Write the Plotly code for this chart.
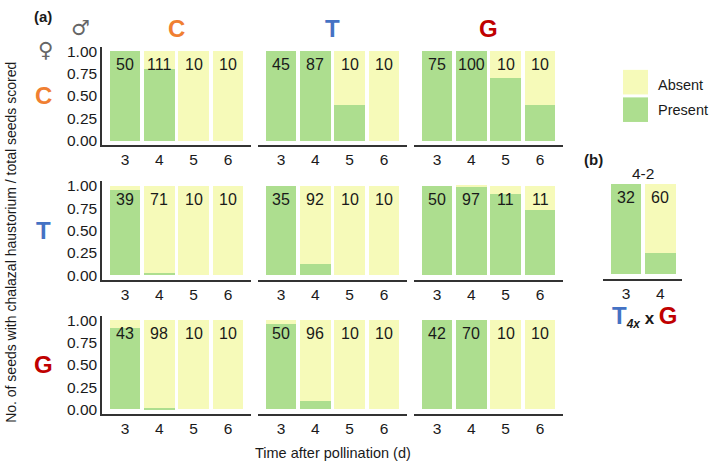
import plotly.graph_objects as go

# ---------------- data ----------------
days = [3, 4, 5, 6]
days_b = [3, 4]
crosses = ["C", "T", "G"]

# fraction of seeds with chalazal haustorium (Present); female x male
present_C_C = [1.00, 0.80, 0.00, 0.00]
present_C_T = [1.00, 1.00, 0.40, 0.00]
present_C_G = [1.00, 1.00, 0.70, 0.40]
present_T_C = [0.95, 0.03, 0.00, 0.00]
present_T_T = [1.00, 0.13, 0.00, 0.00]
present_T_G = [1.00, 0.99, 0.91, 0.73]
present_G_C = [0.91, 0.02, 0.00, 0.00]
present_G_T = [0.96, 0.09, 0.00, 0.00]
present_G_G = [1.00, 1.00, 0.00, 0.00]

# total seeds scored
n_C_C = [50, 111, 10, 10]
n_C_T = [45, 87, 10, 10]
n_C_G = [75, 100, 10, 10]
n_T_C = [39, 71, 10, 10]
n_T_T = [35, 92, 10, 10]
n_T_G = [50, 97, 11, 11]
n_G_C = [43, 98, 10, 10]
n_G_T = [50, 96, 10, 10]
n_G_G = [42, 70, 10, 10]

# panel (b): T4x x G, line 4-2
present_b = [1.00, 0.24]
n_b = [32, 60]

present = {("C", "C"): present_C_C, ("C", "T"): present_C_T, ("C", "G"): present_C_G,
           ("T", "C"): present_T_C, ("T", "T"): present_T_T, ("T", "G"): present_T_G,
           ("G", "C"): present_G_C, ("G", "T"): present_G_T, ("G", "G"): present_G_G}
counts = {("C", "C"): n_C_C, ("C", "T"): n_C_T, ("C", "G"): n_C_G,
          ("T", "C"): n_T_C, ("T", "T"): n_T_T, ("T", "G"): n_T_G,
          ("G", "C"): n_G_C, ("G", "T"): n_G_T, ("G", "G"): n_G_G}

# ---------------- styling ----------------
W, H = 709, 471
GREEN = "#ADDE8F"
YELLOW = "#F6FAB9"
COL = {"C": "#F07F32", "T": "#4472C4", "G": "#C00000"}
FONT = "Liberation Sans, Arial, Helvetica, sans-serif"
TXT = "#1a1a1a"
LINE = "#333333"
TICK = 15.5
NUM = 16


def px(x):
    return x / W


def py(y):
    return 1 - y / H


col_px = [(102, 251), (258, 407), (414, 563)]
row_px = [(43.5, 143.5), (180.5, 280.5), (317, 417)]
XR = [2.33, 6.67]
YR = [-0.05, 1.05]

fig = go.Figure()
layout = {}
annotations = []

idx = 0
for r, fem in enumerate(crosses):
    for c, mal in enumerate(crosses):
        idx += 1
        xa = "x" if idx == 1 else f"x{idx}"
        ya = "y" if idx == 1 else f"y{idx}"
        pres = present[(fem, mal)]
        absn = [round(1 - v, 3) for v in pres]
        fig.add_trace(go.Bar(x=days, y=pres, marker_color=GREEN, marker_line_width=0,
                             xaxis=xa, yaxis=ya, showlegend=False, name="Present"))
        fig.add_trace(go.Bar(x=days, y=absn, marker_color=YELLOW, marker_line_width=0,
                             xaxis=xa, yaxis=ya, showlegend=False, name="Absent"))
        for d, n in zip(days, counts[(fem, mal)]):
            annotations.append(dict(x=d, y=0.85, xref=xa, yref=ya, text=str(n), showarrow=False,
                                    font=dict(size=NUM, color=TXT, family=FONT)))
        kx = "xaxis" if idx == 1 else f"xaxis{idx}"
        ky = "yaxis" if idx == 1 else f"yaxis{idx}"
        layout[kx] = dict(domain=[px(col_px[c][0]), px(col_px[c][1])], anchor=ya, range=XR,
                          tickvals=days, ticktext=[str(d) for d in days], showline=True,
                          linecolor=LINE, linewidth=1.5, ticks="", showgrid=False, zeroline=False,
                          tickfont=dict(size=TICK, color=TXT, family=FONT))
        layout[ky] = dict(domain=[py(row_px[r][1]), py(row_px[r][0])], anchor=xa, range=YR,
                          showgrid=False, zeroline=False, ticks="",
                          showline=(c == 0), linecolor=LINE, linewidth=1.5,
                          showticklabels=(c == 0),
                          tickvals=[0, 0.25, 0.5, 0.75, 1.0],
                          ticktext=["0.00", "0.25", "0.50", "0.75", "1.00"],
                          tickfont=dict(size=TICK, color=TXT, family=FONT))

# panel (b)
idx += 1
xa, ya = f"x{idx}", f"y{idx}"
fig.add_trace(go.Bar(x=days_b, y=present_b, marker_color=GREEN, marker_line_width=0,
                     xaxis=xa, yaxis=ya, showlegend=False))
fig.add_trace(go.Bar(x=days_b, y=[round(1 - v, 3) for v in present_b], marker_color=YELLOW,
                     marker_line_width=0, xaxis=xa, yaxis=ya, showlegend=False))
for d, n in zip(days_b, n_b):
    annotations.append(dict(x=d, y=0.85, xref=xa, yref=ya, text=str(n), showarrow=False,
                            font=dict(size=NUM, color=TXT, family=FONT)))
layout[f"xaxis{idx}"] = dict(domain=[px(603), px(682)], anchor=ya, range=[2.33, 4.63],
                             tickvals=days_b, ticktext=[str(d) for d in days_b], showline=True,
                             linecolor=LINE, linewidth=1.5, ticks="", showgrid=False,
                             zeroline=False, tickfont=dict(size=TICK, color=TXT, family=FONT))
layout[f"yaxis{idx}"] = dict(domain=[py(279.5), py(178.5)], anchor=xa, range=YR, showgrid=False,
                             zeroline=False, showline=False, showticklabels=False, ticks="")

# ---------------- labels ----------------
def ann(x, y, text, size, color=TXT, bold=False, family=FONT, **kw):
    t = f"<b>{text}</b>" if bold else text
    d = dict(x=px(x), y=py(y), xref="paper", yref="paper", text=t, showarrow=False,
             font=dict(size=size, color=color, family=family), xanchor="center",
             yanchor="middle")
    d.update(kw)
    annotations.append(d)


ann(43, 13, "(a)", 15, bold=True)
ann(80, 24, "♂", 21, color="#666666", family="DejaVu Sans")
ann(45, 47, "♀", 21, color="#666666", family="DejaVu Sans")
for c, mal in enumerate(crosses):
    ann((col_px[c][0] + col_px[c][1]) / 2, 25, mal, 24, color=COL[mal], bold=True)
for r, fem in enumerate(crosses):
    ann(43, (row_px[r][0] + row_px[r][1]) / 2, fem, 24, color=COL[fem], bold=True)

ann(593, 158, "(b)", 15, bold=True)
ann(643, 172, "4-2", 15.5)
ann(644, 318,
    f"<b><span style='color:{COL['T']};font-size:24px'>T</span><sub><i>4x</i></sub>"
    f" x <span style='color:{COL['G']};font-size:24px'>G</span></b>", 17)

ann(333, 457, "Time after pollination (d)", 14.5)
ann(11, 243, "No. of seeds with chalazal haustorium / total seeds scored", 14, textangle=-90)

# legend (drawn manually)
shapes = [
    dict(type="rect", xref="paper", yref="paper", x0=px(623), x1=px(648), y0=py(92), y1=py(67),
         fillcolor=YELLOW, line_width=0),
    dict(type="rect", xref="paper", yref="paper", x0=px(623), x1=px(648), y0=py(120), y1=py(95),
         fillcolor=GREEN, line_width=0),
]
ann(656, 82, "Absent", 14.5, xanchor="left")
ann(656, 108, "Present", 14.5, xanchor="left")

fig.update_layout(width=W, height=H, margin=dict(l=0, r=0, t=0, b=0),
                  paper_bgcolor="white", plot_bgcolor="white", barmode="stack", bargap=0.1,
                  annotations=annotations, shapes=shapes, showlegend=False,
                  font=dict(family=FONT, color=TXT), **layout)

fig.write_html("out.html", config={"displayModeBar": False},
               post_script="document.body.style.margin='0';document.body.style.overflow='hidden';")
